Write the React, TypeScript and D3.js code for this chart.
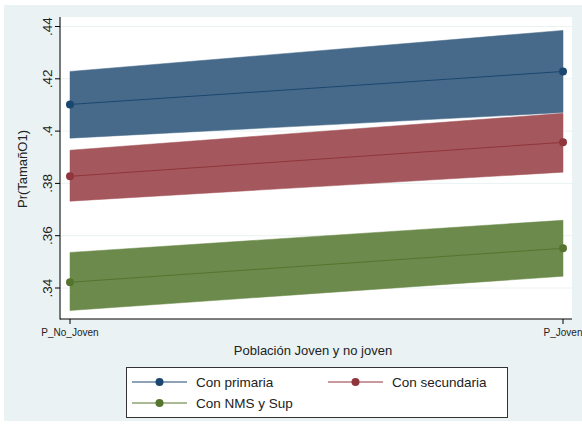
import React from 'react';
import * as d3 from 'd3';

const categories = ['P_No_Joven', 'P_Joven'];
const yTicks = [0.34, 0.36, 0.38, 0.4, 0.42, 0.44];
const yTickLabels = ['.34', '.36', '.38', '.4', '.42', '.44'];

const seriesNames = ['Con primaria', 'Con secundaria', 'Con NMS y Sup'];
const primariaMean = [0.4102, 0.4228];
const primariaLow = [0.3973, 0.4071];
const primariaHigh = [0.4228, 0.4385];
const secundariaMean = [0.3827, 0.3957];
const secundariaLow = [0.3732, 0.3843];
const secundariaHigh = [0.3927, 0.4068];
const nmsMean = [0.3422, 0.3552];
const nmsLow = [0.3314, 0.3445];
const nmsHigh = [0.3536, 0.3659];

const lineColors = ['#1a476f', '#90353b', '#55752f'];
const fillColors = ['#476a8b', '#a4575c', '#6c8a4b'];

const W = 582;
const H = 431;
const plot = { left: 61, right: 572, top: 17, bottom: 319 };

export default function App() {
  const y = d3.scaleLinear().domain([0.34, 0.44]).range([288, 26.5]);
  const x = d3.scalePoint<string>().domain(categories).range([70, 563]);

  const series = [
    { mean: primariaMean, low: primariaLow, high: primariaHigh },
    { mean: secundariaMean, low: secundariaLow, high: secundariaHigh },
    { mean: nmsMean, low: nmsLow, high: nmsHigh },
  ];

  const font = '"Liberation Sans", Arial, sans-serif';

  return (
    <svg width={W} height={H} style={{ position: 'absolute', left: 0, top: 0 }} fontFamily={font}>
      <rect x={0} y={0} width={W} height={H} fill="#ffffff" />
      <rect x={4} y={5} width={W - 4} height={416} fill="#eaf2f3" />
      <rect x={plot.left} y={plot.top} width={plot.right - plot.left} height={plot.bottom - plot.top} fill="#ffffff" />
      {yTicks.map(t => (
        <line key={'g' + t} x1={plot.left} x2={plot.right} y1={y(t)} y2={y(t)} stroke="#eaf2f3" strokeWidth={1} />
      ))}
      {series.map((s, k) => {
        const a = d3.area<number>()
          .x((_, i) => x(categories[i])!)
          .y0((_, i) => y(s.low[i]))
          .y1((_, i) => y(s.high[i]));
        const l = d3.line<number>()
          .x((_, i) => x(categories[i])!)
          .y(d => y(d));
        return (
          <g key={k}>
            <path d={a(s.mean)!} fill={fillColors[k]} stroke={fillColors[k]} strokeWidth={0.5} />
            <path d={l(s.mean)!} fill="none" stroke={lineColors[k]} strokeWidth={1} />
            {s.mean.map((v, i) => (
              <circle key={i} cx={x(categories[i])} cy={y(v)} r={4} fill={lineColors[k]} />
            ))}
          </g>
        );
      })}
      {/* axes */}
      <line x1={60} x2={60} y1={plot.top} y2={plot.bottom + 0.5} stroke="#000" strokeWidth={1} />
      <line x1={60} x2={plot.right} y1={plot.bottom} y2={plot.bottom} stroke="#000" strokeWidth={1} />
      {yTicks.map((t, i) => (
        <g key={'t' + t}>
          <line x1={55} x2={60} y1={y(t)} y2={y(t)} stroke="#000" />
          <text transform={`translate(52,${y(t)}) rotate(-90)`} textAnchor="middle" fontSize={13.5} fill="#222">{yTickLabels[i]}</text>
        </g>
      ))}
      {categories.map(c => (
        <g key={c}>
          <line x1={x(c)} x2={x(c)} y1={plot.bottom} y2={plot.bottom + 5} stroke="#000" />
          <text x={x(c)} y={plot.bottom + 17} textAnchor="middle" fontSize={10} fill="#222">{c}</text>
        </g>
      ))}
      <text transform="translate(27,169) rotate(-90)" textAnchor="middle" fontSize={13} fill="#222">Pr(TamañO1)</text>
      <text x={313} y={355} textAnchor="middle" fontSize={13} fill="#222">Población Joven y no joven</text>
      {/* legend */}
      <rect x={126.5} y={367.5} width={381} height={50} fill="#fff" stroke="#333" strokeWidth={1} />
      {seriesNames.map((n, k) => {
        const col = k === 1 ? 1 : 0;
        const row = k === 2 ? 1 : 0;
        const lx = col === 0 ? 132 : 328;
        const ly = row === 0 ? 382 : 403;
        return (
          <g key={n}>
            <line x1={lx} x2={lx + 55} y1={ly} y2={ly} stroke={lineColors[k]} strokeWidth={1} />
            <circle cx={lx + 27.5} cy={ly} r={4} fill={lineColors[k]} />
            <text x={lx + 64} y={ly + 5} fontSize={13.5} fill="#222">{n}</text>
          </g>
        );
      })}
    </svg>
  );
}
